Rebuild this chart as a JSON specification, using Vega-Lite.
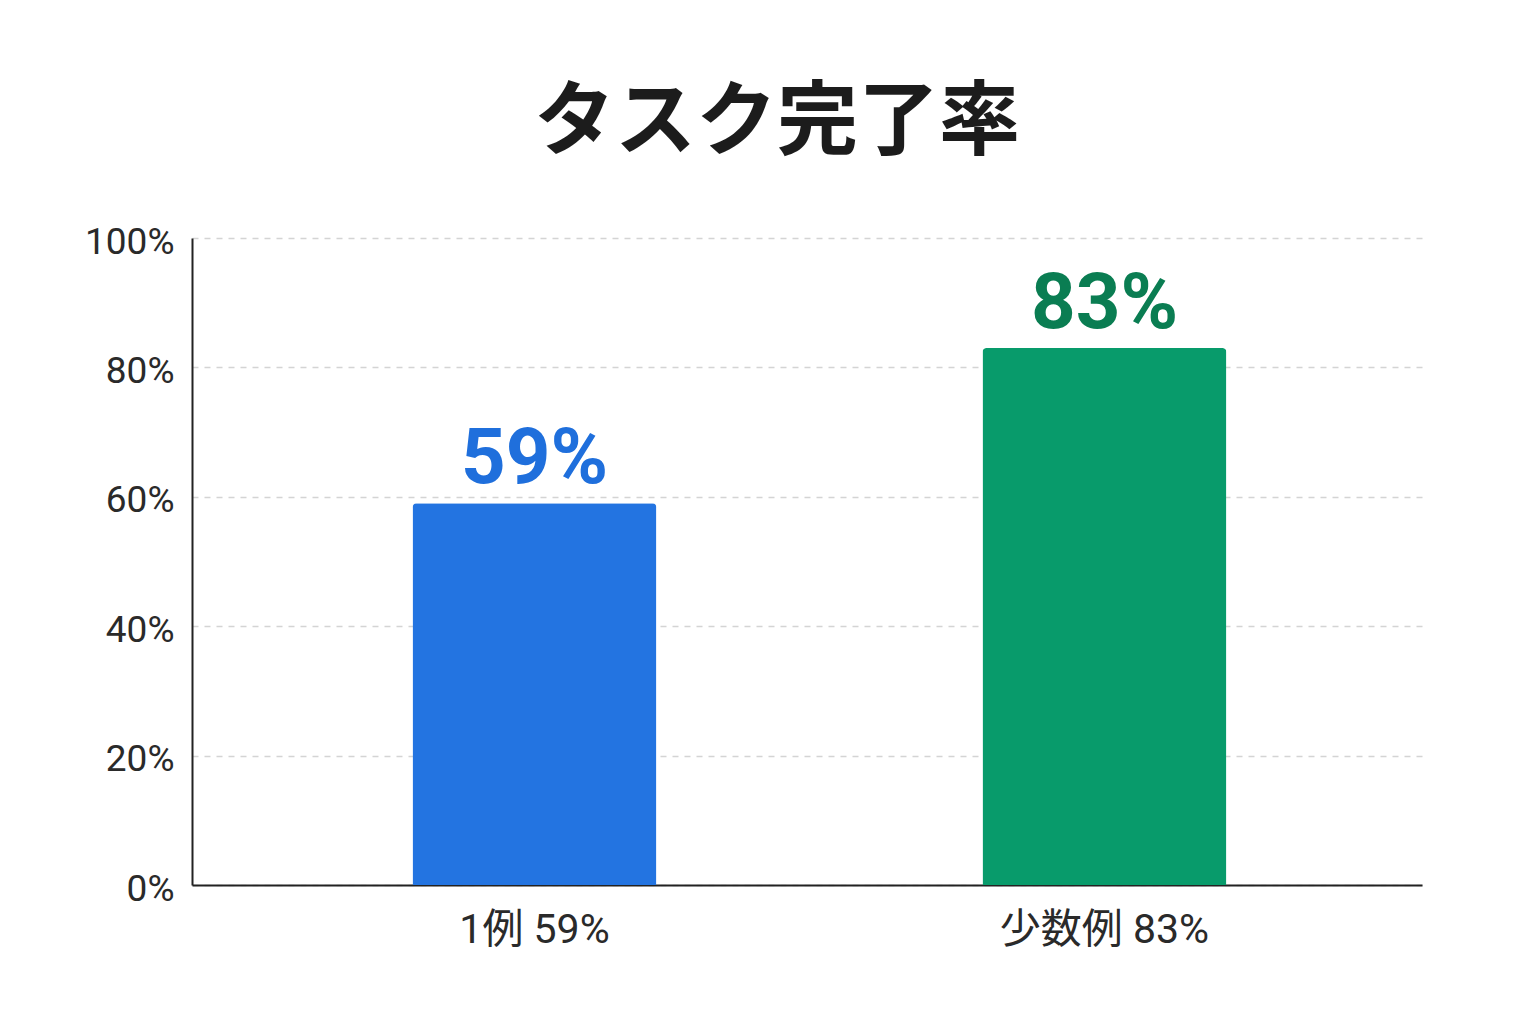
{
  "$schema": "https://vega.github.io/schema/vega-lite/v6.json",
  "autosize": "none",
  "width": 1230,
  "height": 647,
  "padding": {"left": 192, "top": 238, "right": 114, "bottom": 139},
  "background": "white",
  "view": {"stroke": null},
  "title": {
    "text": "タスク完了率",
    "font": "Noto Sans CJK JP",
    "fontSize": 81,
    "fontWeight": "bold",
    "color": "#1c1c1c",
    "anchor": "middle",
    "dx": -30,
    "offset": 58
  },
  "data": {
    "values": [
      {"group": "1例 59%", "rate": 59, "label": "59%"},
      {"group": "少数例 83%", "rate": 83, "label": "83%"}
    ]
  },
  "encoding": {
    "x": {
      "field": "group",
      "type": "nominal",
      "sort": null,
      "scale": {"paddingInner": 0.572, "paddingOuter": 0.365, "align": 0.53},
      "axis": {
        "title": null,
        "labelAngle": 0,
        "labelLimit": 400,
        "labelFont": "Roboto, Noto Sans CJK JP",
        "labelFontSize": 41,
        "labelColor": "#2a2a2a",
        "labelPadding": 25,
        "ticks": false,
        "domainColor": "#222222",
        "domainWidth": 2
      }
    },
    "y": {
      "field": "rate",
      "type": "quantitative",
      "scale": {"domain": [0, 100]},
      "axis": {
        "title": null,
        "values": [0, 20, 40, 60, 80, 100],
        "labelExpr": "datum.value + '%'",
        "labelFont": "Roboto",
        "labelFontSize": 37,
        "labelColor": "#2a2a2a",
        "labelPadding": 18,
        "labelOffset": 4,
        "ticks": false,
        "domainColor": "#222222",
        "domainWidth": 2,
        "gridColor": "#d4d4d4",
        "gridDash": [6, 6],
        "gridWidth": 1.5
      }
    }
  },
  "layer": [
    {
      "mark": {"type": "bar", "cornerRadiusTopLeft": 4, "cornerRadiusTopRight": 4},
      "encoding": {
        "color": {
          "field": "group",
          "type": "nominal",
          "scale": {"domain": ["1例 59%", "少数例 83%"], "range": ["#2374e1", "#089b6b"]},
          "legend": null
        }
      }
    },
    {
      "mark": {
        "type": "text",
        "baseline": "alphabetic",
        "dy": -20,
        "font": "Roboto",
        "fontSize": 78,
        "fontWeight": "bold"
      },
      "encoding": {
        "text": {"field": "label"},
        "color": {
          "field": "group",
          "type": "nominal",
          "scale": {"domain": ["1例 59%", "少数例 83%"], "range": ["#1f6fdc", "#0a7d52"]},
          "legend": null
        }
      }
    }
  ],
  "resolve": {"scale": {"color": "independent"}}
}
